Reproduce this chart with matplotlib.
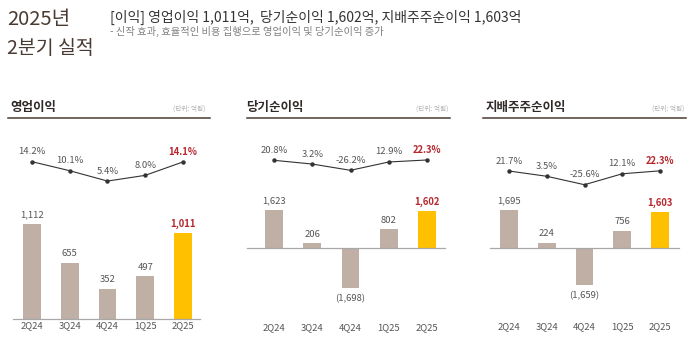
import numpy as np
import matplotlib.pyplot as plt
from matplotlib.lines import Line2D

plt.rcParams['font.family'] = ['Noto Sans CJK KR', 'DejaVu Sans']

# 분기 실적 데이터 (단위: 억원)
quarters = ['2Q24', '3Q24', '4Q24', '1Q25', '2Q25']
op_profit = [1112, 655, 352, 497, 1011]
op_margin = [14.2, 10.1, 5.4, 8.0, 14.1]
net_profit = [1623, 206, -1698, 802, 1602]
net_margin = [20.8, 3.2, -26.2, 12.9, 22.3]
ctrl_profit = [1695, 224, -1659, 756, 1603]
ctrl_margin = [21.7, 3.5, -25.6, 12.1, 22.3]
panel_titles = ['영업이익', '당기순이익', '지배주주순이익']

W, H = 700, 347
BAR = '#BFAFA5'
HILITE = '#FFC000'
RED = '#B5282E'
BROWN = '#4A3B32'
GRAY = '#555555'

fig = plt.figure(figsize=(W / 100, H / 100), dpi=100)
fig.patch.set_facecolor('white')


def fx(px):
    return px / W


def fy(py):
    return 1 - py / H


# 상단 헤더
fig.text(fx(7), fy(20), '2025년', fontsize=14.5, color=BROWN, va='center', ha='left')
fig.text(fx(7), fy(48), '2분기 실적', fontsize=14, color=BROWN, va='center', ha='left')
fig.text(fx(110), fy(17), '[이익] 영업이익 1,011억,  당기순이익 1,602억, 지배주주순이익 1,603억',
         fontsize=10, color='#333333', va='center', ha='left')
fig.text(fx(110), fy(31), '- 신작 효과, 효율적인 비용 집행으로 영업이익 및 당기순이익 증가',
         fontsize=7.4, color='#808080', va='center', ha='left')

# 패널별 배치 (픽셀 단위)
panels = [
    dict(title_x=10, line_x=(8, 210), unit_x=205, c0=32, dx=37.75, base=318.7, scale=0.0852,
         ref=(14.2, 161.7), pscale=2.2, axis_x=(13, 200), bottom=320),
    dict(title_x=246, line_x=(247, 450), unit_x=448, c0=274, dx=38.25, base=248, scale=0.0234,
         ref=(20.8, 160.3), pscale=0.213, axis_x=(247, 445), bottom=322),
    dict(title_x=486, line_x=(483, 686), unit_x=684, c0=509, dx=37.75, base=248, scale=0.0225,
         ref=(21.7, 171.0), pscale=0.29, axis_x=(490, 679), bottom=321),
]
bar_data = [op_profit, net_profit, ctrl_profit]
pct_data = [op_margin, net_margin, ctrl_margin]

TOP = 125
x = np.arange(len(quarters))

for p, title, bars, pcts in zip(panels, panel_titles, bar_data, pct_data):
    # 패널 제목과 밑줄
    fig.text(fx(p['title_x']), fy(108), title, fontsize=9, fontweight='bold',
             color='#2F2A27', va='center', ha='left')
    fig.text(fx(p['unit_x']), fy(109), '(단위: 억원)', fontsize=4.8, color='#B0B0B0',
             va='center', ha='right')
    fig.add_artist(Line2D([fx(p['line_x'][0]), fx(p['line_x'][1])], [fy(117.5), fy(117.5)],
                          color=BROWN, lw=1.1))

    left = p['c0'] - 0.5 * p['dx']
    right = p['c0'] + 4.5 * p['dx']
    bottom = p['bottom']
    ax = fig.add_axes([fx(left), fy(bottom), (right - left) / W, (bottom - TOP) / H])
    ax.set_xlim(-0.5, 4.5)
    ax.set_ylim((p['base'] - bottom) / p['scale'], (p['base'] - TOP) / p['scale'])

    colors = [BAR] * (len(bars) - 1) + [HILITE]
    ax.bar(x, bars, width=0.47, color=colors, zorder=2)

    # 0 기준선
    xa = (p['axis_x'][0] - p['c0']) / p['dx']
    xb = (p['axis_x'][1] - p['c0']) / p['dx']
    ax.plot([xa, xb], [0, 0], color='#A8A8A8', lw=0.9, clip_on=False, zorder=3)

    for i, v in enumerate(bars):
        last = i == len(bars) - 1
        txt = f'{v:,}' if v >= 0 else f'({-v:,})'
        off = 6.5 if v >= 0 else -7.6
        ax.annotate(txt, (i, v), xytext=(0, off), textcoords='offset points',
                    ha='center', va='center', fontsize=6.8,
                    color=RED if last else GRAY, fontweight='bold' if last else 'normal')

    ax.set_xticks(x)
    ax.set_xticklabels(quarters, fontsize=6.8, color=GRAY)
    ax.tick_params(axis='x', length=0, pad=1)
    ax.set_yticks([])
    for s in ax.spines.values():
        s.set_visible(False)
    ax.patch.set_alpha(0)

    # 이익률 꺾은선
    lx = ax.twinx()
    ref_v, ref_px = p['ref']
    ps = p['pscale']
    lx.set_ylim(ref_v - (bottom - ref_px) / ps, ref_v + (ref_px - TOP) / ps)
    lx.plot(x, pcts, color='#333333', lw=0.8, marker='o', markersize=2.2, zorder=4)
    for i, v in enumerate(pcts):
        last = i == len(pcts) - 1
        lx.annotate(f'{v:.1f}%', (i, v), xytext=(0, 7.2), textcoords='offset points',
                    ha='center', va='center', fontsize=6.8,
                    color=RED if last else GRAY, fontweight='bold' if last else 'normal')
    lx.set_yticks([])
    for s in lx.spines.values():
        s.set_visible(False)

fig.savefig('out.png', dpi=100, facecolor='white')
